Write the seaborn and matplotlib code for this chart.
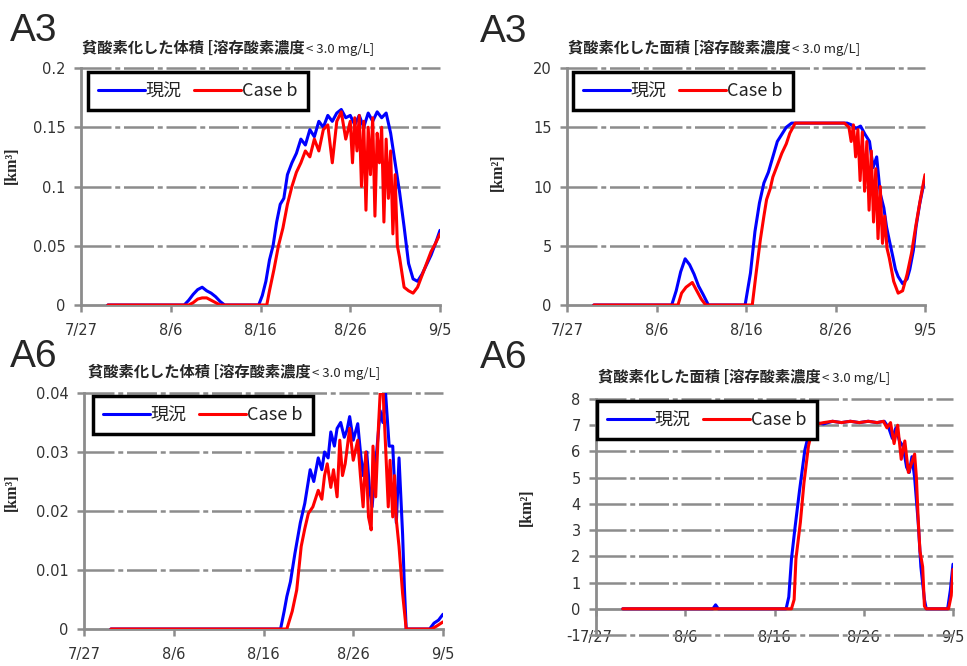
import matplotlib
matplotlib.use('Agg')
import matplotlib.pyplot as plt
import seaborn as sns

# x axis: days counted from 7/27
date_labels = ['7/27', '8/6', '8/16', '8/26', '9/5']
date_pos = [0, 10, 20, 30, 40]
series_names = ['現況', 'Case b']

# A3 貧酸素化した体積 [km3]
a3_vol_t_now = [3, 11.5, 12, 12.5, 13, 13.5, 14, 14.5, 15, 15.5, 16,
                19.8, 20.2, 20.6, 21, 21.4, 21.8, 22.2, 22.6, 23,
                23.5, 24, 24.5, 25, 25.5, 26, 26.5, 27, 27.5, 28, 28.5, 29, 29.5, 30, 30.5,
                31, 31.5, 32, 32.5, 33, 33.5, 34, 34.5, 35, 35.5, 36, 36.5, 37, 37.5, 38,
                38.5, 39, 39.5, 40]
a3_vol_now = [0, 0, 0.004, 0.009, 0.013, 0.015, 0.012, 0.010, 0.007, 0.003, 0,
              0, 0.008, 0.02, 0.038, 0.05, 0.07, 0.085, 0.09, 0.11,
              0.12, 0.128, 0.14, 0.135, 0.148, 0.142, 0.155, 0.15, 0.16, 0.155, 0.162, 0.165,
              0.158, 0.16, 0.152, 0.16, 0.15, 0.162, 0.155, 0.163, 0.158, 0.162,
              0.145, 0.12, 0.095, 0.066, 0.035, 0.022, 0.02, 0.026, 0.034, 0.042, 0.052, 0.063]
a3_vol_t_b = [3, 12, 12.5, 13, 13.5, 14, 14.5, 15, 15.5,
              20.7, 21, 21.5, 22, 22.5, 23, 23.5, 24, 24.5, 25, 25.5, 26, 26.5, 27, 27.5,
              28, 28.5, 29, 29.5,
              30, 30.25, 30.5, 30.75, 31, 31.25, 31.5, 31.75, 32, 32.25, 32.5, 32.75, 33,
              33.25, 33.5, 33.75, 34, 34.25, 34.5, 34.75, 35, 35.25, 35.5,
              36, 36.5, 37, 37.5, 38, 38.5, 39, 39.5, 40]
a3_vol_b = [0, 0, 0.002, 0.005, 0.006, 0.006, 0.004, 0.002, 0,
            0, 0.012, 0.03, 0.05, 0.065, 0.085, 0.10, 0.112, 0.12, 0.13, 0.125, 0.14, 0.13,
            0.148, 0.152, 0.12, 0.155, 0.163, 0.14,
            0.155, 0.12, 0.158, 0.13, 0.16, 0.10, 0.155, 0.08, 0.15, 0.11, 0.158, 0.075, 0.145,
            0.12, 0.15, 0.07, 0.14, 0.09, 0.13, 0.06, 0.11, 0.05, 0.04,
            0.015, 0.012, 0.01, 0.015, 0.025, 0.035, 0.045, 0.052, 0.06]

# A3 貧酸素化した面積 [km2]
a3_area_t_now = [3, 11.7, 12.2, 12.7, 13.2, 13.7, 14.2, 14.7, 15.2, 15.8,
                 19.9, 20.5, 21, 21.5, 22, 22.5, 23, 23.5, 24, 24.5, 25.1,
                 31.3, 31.8, 32.3, 32.8, 33.3, 33.8, 34.2, 34.6, 35, 35.4, 35.7, 36, 36.4,
                 36.7, 37, 37.5, 38, 38.3, 38.7, 39, 39.4, 39.8, 40]
a3_area_now = [0, 0, 1.2, 2.8, 3.9, 3.4, 2.6, 1.6, 0.9, 0,
               0, 2.7, 6.2, 8.6, 10.3, 11.2, 12.5, 13.8, 14.4, 15.0, 15.35,
               15.35, 15.2, 14.9, 15.1, 14.4, 13.8, 11.6, 12.5, 9.4, 8.2, 6.6, 5.5, 4.1,
               3.0, 2.4, 1.8, 2.2, 3.0, 4.6, 6.6, 8.5, 10.0, 10.8]
a3_area_t_b = [3, 12.4, 12.8, 13.3, 14, 14.5, 15, 15.5,
               20.7, 21.1, 21.6, 22, 22.3, 22.7, 23, 23.5, 24, 24.5, 24.9, 25.5,
               31, 31.5, 31.75, 32, 32.25, 32.5, 32.75, 33, 33.25, 33.5, 33.75, 34, 34.25,
               34.5, 34.75, 35, 35.25, 35.5, 35.75, 36, 36.5, 37, 37.5, 38, 38.5, 39, 39.5, 40]
a3_area_b = [0, 0, 1.0, 1.5, 1.9, 1.2, 0.5, 0,
             0, 2.5, 5.5, 7.5, 8.9, 9.8, 10.8, 11.8, 12.8, 13.6, 14.5, 15.35,
             15.35, 15.0, 13.8, 15.2, 12.5, 14.8, 10.5, 14.6, 9.6, 13.8, 8.0, 13.0, 7.0,
             11.5, 5.6, 10.0, 5.2, 7.5, 4.8, 4.0, 2.0, 1.0, 1.2, 2.6, 4.4, 6.8, 9.0, 11.0]

# A6 貧酸素化した体積 [km3]
a6_vol_t_now = [3, 21.9, 22.3, 22.6, 23, 23.5, 24.1, 24.6, 25.2, 25.6, 26.1, 26.5, 26.8,
                27.2, 27.5, 27.9, 28.2, 28.6, 29, 29.3, 29.6, 30, 30.5, 30.8, 31.1, 31.5,
                31.8, 32.1, 32.5, 33, 33.3, 33.6, 34, 34.4, 34.8, 35.1, 35.5, 35.7, 35.9,
                38.5, 39, 39.5, 40]
a6_vol_now = [0, 0, 0.003, 0.0055, 0.008, 0.0128, 0.018, 0.0213, 0.027, 0.025, 0.029,
              0.027, 0.030, 0.029, 0.0334, 0.031, 0.034, 0.035, 0.0325, 0.0337, 0.036,
              0.032, 0.0348, 0.030, 0.026, 0.030, 0.024, 0.0207, 0.028, 0.037, 0.035,
              0.040, 0.031, 0.031, 0.018, 0.029, 0.016, 0.007, 0,
              0, 0.001, 0.0015, 0.0025]
a6_vol_t_b = [3, 22.6, 23.2, 23.7, 24.2, 24.6, 25, 25.5, 26.1, 26.5, 26.8, 27.1, 27.5,
              27.8, 28.2, 28.5, 28.8, 29.1, 29.6, 30, 30.5, 30.8, 31.1, 31.4, 31.7, 32,
              32.2, 32.5, 32.8, 33.1, 33.3, 33.6, 33.9, 34.1, 34.4, 34.6, 34.8, 35.1,
              35.5, 35.9, 38.7, 39.3, 40]
a6_vol_b = [0, 0, 0.003, 0.0066, 0.014, 0.017, 0.0196, 0.0207, 0.0235, 0.022, 0.026,
            0.028, 0.024, 0.027, 0.0224, 0.032, 0.026, 0.028, 0.034, 0.0286, 0.032, 0.026,
            0.0207, 0.030, 0.019, 0.0168, 0.031, 0.0224, 0.034, 0.043, 0.041, 0.031,
            0.0207, 0.0286, 0.019, 0.026, 0.0185, 0.014, 0.006, 0, 0, 0.0005, 0.0012]

# A6 貧酸素化した面積 [km2]
a6_area_t_now = [3, 13.1, 13.4, 13.7, 21.3, 21.6, 21.9, 22.3, 22.8, 23.4, 24, 24.5, 25.5,
                 26.5, 27.5, 28.5, 29.5, 30.5, 31.5, 32.3, 32.8, 33.2, 33.6, 34, 34.4,
                 34.8, 35.1, 35.4, 35.7, 36.1, 36.4, 36.8, 37, 39.4, 39.7, 40]
a6_area_now = [0, 0, 0.15, 0, 0, 0.45, 1.9, 3.1, 4.5, 6.05, 6.9, 7.1, 7.05, 7.15, 7.1,
               7.15, 7.1, 7.15, 7.1, 7.15, 6.9, 6.5, 6.9, 6.4, 6.2, 5.4, 5.2, 5.8, 5.0,
               3.3, 1.6, 0.35, 0, 0, 0.7, 1.7]
a6_area_t_b = [3, 21.9, 22.2, 22.4, 22.9, 23.3, 23.8, 24.2, 24.8, 25.5, 26.5, 27.5, 28.5,
               29.5, 30.5, 31.5, 32.2, 32.6, 33, 33.4, 33.8, 34.2, 34.6, 35, 35.4, 35.7,
               35.9, 36.1, 36.3, 36.6, 36.8, 37, 39.5, 39.8, 40]
a6_area_b = [0, 0, 0.35, 1.9, 3.3, 4.8, 6.2, 6.8, 7.05, 7.1, 7.15, 7.1, 7.15, 7.1, 7.15,
             7.1, 7.15, 6.9, 7.1, 6.3, 7.0, 5.7, 6.4, 5.2, 5.6, 5.9, 5.0, 3.4, 2.2, 1.6,
             0.1, 0, 0, 0.5, 1.5]

vol_ticks = [0, 0.05, 0.1, 0.15, 0.2]
vol_ticklabels = ['0', '0.05', '0.1', '0.15', '0.2']
area_ticks = [0, 5, 10, 15, 20]
a6_vol_ticks = [0, 0.01, 0.02, 0.03, 0.04]
a6_vol_ticklabels = ['0', '0.01', '0.02', '0.03', '0.04']
a6_area_ticks = [-1, 0, 1, 2, 3, 4, 5, 6, 7, 8]

title_vol = '貧酸素化した体積 [溶存酸素濃度'
title_area = '貧酸素化した面積 [溶存酸素濃度'
title_tail = '< 3.0 mg/L]'

sns.set_style('white')
plt.rcParams['font.family'] = ['DejaVu Sans', 'Noto Sans CJK JP']
CJK = ['Noto Sans CJK JP', 'DejaVu Sans']

W, H = 967, 666
fig = plt.figure(figsize=(W / 100, H / 100), dpi=100)

GRAY = '#8c8c8c'


def px_rect(l, t, r, b):
    return [l / W, 1 - b / H, (r - l) / W, (b - t) / H]


def panel(rect, tn, vn, tb, vb, ylim, yticks, yticklabels, ylabel, ylab_xy,
          tag, tag_xy, title, title_xy, leg_xy, below_zero=False):
    ax = fig.add_axes(px_rect(*rect))
    sns.lineplot(x=tn, y=vn, ax=ax, color='#0000ff', linewidth=2.2, label=series_names[0],
                 estimator=None, zorder=3)
    sns.lineplot(x=tb, y=vb, ax=ax, color='#ff0000', linewidth=2.2, label=series_names[1],
                 estimator=None, zorder=4)
    ax.set_xlim(0, 40)
    ax.set_ylim(*ylim)
    ax.set_xticks(date_pos)
    ax.set_xticklabels(date_labels)
    ax.set_yticks(yticks)
    ax.set_yticklabels(yticklabels)
    for y in yticks:
        if y != 0:
            ax.axhline(y, color=GRAY, lw=1.8, dashes=(12, 1.5, 2, 1.5), zorder=1, clip_on=False)
    for s in ['top', 'right']:
        ax.spines[s].set_visible(False)
    for s in ['left', 'bottom']:
        ax.spines[s].set_color(GRAY)
        ax.spines[s].set_linewidth(2)
    if below_zero:
        ax.spines['bottom'].set_position(('data', 0))
        xpad = 10.5
    else:
        xpad = 8
    ax.tick_params(axis='x', length=5, width=1.8, color=GRAY, pad=xpad,
                   labelsize=10.5, labelcolor='#333333', direction='out', bottom=True)
    ax.tick_params(axis='y', length=5, width=1.8, color=GRAY, pad=6,
                   labelsize=10.5, labelcolor='#333333', direction='out', left=True)
    ax.set_xlabel('')
    ax.set_ylabel(ylabel, fontsize=11.5, fontweight='bold', family='Liberation Serif')
    ax.yaxis.set_label_coords(*ylab_xy)
    ax.grid(False)

    leg = ax.legend(loc='upper left', bbox_to_anchor=(leg_xy[0] / W, 1 - leg_xy[1] / H),
                    bbox_transform=fig.transFigure, borderaxespad=0, ncol=2,
                    frameon=True, fancybox=False, handlelength=2.6, handletextpad=0.05,
                    columnspacing=0.7, borderpad=0.55,
                    prop={'family': CJK, 'size': 13})
    leg.get_frame().set_edgecolor('black')
    leg.get_frame().set_linewidth(2.5)
    leg.get_frame().set_alpha(1)
    for txt in leg.get_texts():
        txt.set_color('#222222')
    for h in leg.get_lines():
        h.set_linewidth(2.2)

    fig.text(tag_xy[0] / W, 1 - tag_xy[1] / H, tag, fontsize=28,
             family='Liberation Sans', va='baseline', ha='left')
    t1 = fig.text(title_xy[0] / W, 1 - title_xy[1] / H, title, fontsize=11,
                  fontweight='bold', family=CJK, va='baseline', ha='left')
    ax.annotate(title_tail, xy=(1, 0), xycoords=t1, xytext=(1, 0),
                textcoords='offset points', va='bottom', ha='left',
                fontsize=9.5, family=CJK, annotation_clip=False)
    return ax


panel((81, 68, 440, 305), a3_vol_t_now, a3_vol_now, a3_vol_t_b, a3_vol_b,
      (0, 0.2), vol_ticks, vol_ticklabels, '[km³]', (-0.17, 0.59),
      'A3', (10, 41), title_vol, (82, 53), (88, 72))
panel((567, 68, 925, 305), a3_area_t_now, a3_area_now, a3_area_t_b, a3_area_b,
      (0, 20), area_ticks, [str(v) for v in area_ticks], '[km²]', (-0.17, 0.56),
      'A3', (480, 42), title_area, (568, 53), (573, 72))
panel((84, 393, 443, 629), a6_vol_t_now, a6_vol_now, a6_vol_t_b, a6_vol_b,
      (0, 0.04), a6_vol_ticks, a6_vol_ticklabels, '[km³]', (-0.18, 0.58),
      'A6', (10, 367), title_vol, (88, 377), (93, 396))
panel((596, 399, 953, 635), a6_area_t_now, a6_area_now, a6_area_t_b, a6_area_b,
      (-1, 8), a6_area_ticks, [str(v) for v in a6_area_ticks], '[km²]', (-0.17, 0.54),
      'A6', (480, 368), title_area, (598, 382), (597, 401), below_zero=True)

fig.savefig('out.png', dpi=100)
